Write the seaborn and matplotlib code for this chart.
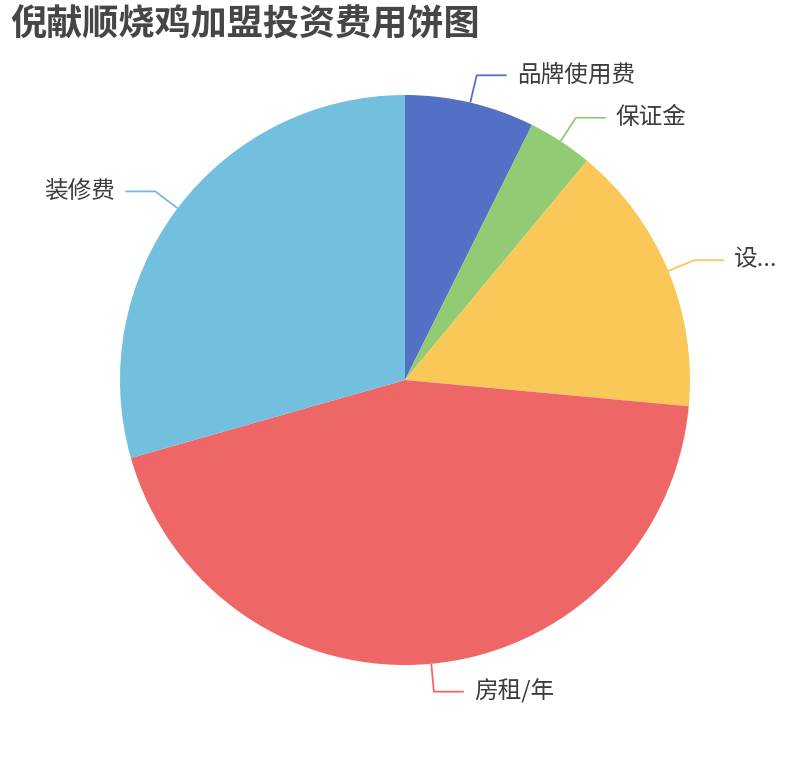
import numpy as np
import matplotlib
matplotlib.use('Agg')
import matplotlib.pyplot as plt
import seaborn as sns

sns.set_theme(style='white')
plt.rcParams['font.family'] = ['Noto Sans CJK SC', 'DejaVu Sans']

# data
categories = ['品牌使用费', '保证金', '设...', '房租/年', '装修费']
values = [2, 1, 4.2, 12, 8]
colors = ['#5470c6', '#91cc75', '#fac858', '#ee6666', '#73c0de']
title = '倪献顺烧鸡加盟投资费用饼图'

W, H = 810, 760
fig = plt.figure(figsize=(W / 100, H / 100), dpi=100)
ax = fig.add_axes([0, 0, 1, 1])

cx, cy, r = 405, H - 380, 285
wedges, _ = ax.pie(values, colors=colors, startangle=90, counterclock=False,
                   center=(cx, cy), radius=r, frame=True,
                   wedgeprops=dict(linewidth=0))
ax.set_xlim(0, W)
ax.set_ylim(0, H)
ax.set_aspect('equal')
ax.axis('off')

# leader lines + labels
for w, lab, col in zip(wedges, categories, colors):
    mid = np.deg2rad((w.theta1 + w.theta2) / 2)
    dx, dy = np.cos(mid), np.sin(mid)
    p0 = (cx + r * dx, cy + r * dy)
    p1 = (cx + (r + 28) * dx, cy + (r + 28) * dy)
    side = 1 if dx >= 0 else -1
    p2 = (p1[0] + side * 30, p1[1])
    ax.plot([p0[0], p1[0], p2[0]], [p0[1], p1[1], p2[1]], color=col, lw=1.3,
            solid_capstyle='butt')
    ax.text(p2[0] + side * 10, p2[1], lab, fontsize=17, color='#3c3c3c',
            ha='left' if side > 0 else 'right', va='center')

fig.text(10 / W, 1 - 25 / H, title, fontsize=26, fontweight='bold',
         color='#464646', ha='left', va='center')

fig.savefig('out.png', dpi=100)
